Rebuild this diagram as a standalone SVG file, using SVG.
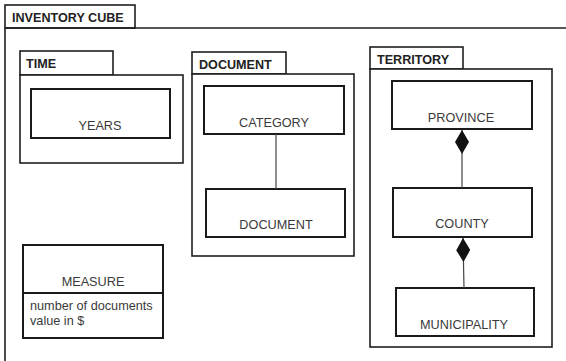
<svg xmlns="http://www.w3.org/2000/svg" width="566" height="361" viewBox="0 0 566 361">
  <style>
    .pkg { fill: #ffffff; stroke: #1e1e1e; stroke-width: 1.6; }
    .cls { fill: #ffffff; stroke: #1a1a1a; stroke-width: 2; }
    .title { font-family: "Liberation Sans", Arial, sans-serif; font-size: 12.6px; font-weight: bold; fill: #222222; }
    .name { font-family: "Liberation Sans", Arial, sans-serif; font-size: 12.7px; fill: #3a3a3a; text-anchor: middle; }
    .attr { font-family: "Liberation Sans", Arial, sans-serif; font-size: 12.7px; fill: #3a3a3a; }
    .link { fill: none; stroke: #444444; stroke-width: 1.2; }
  </style>
  <defs>
    <!-- filled diamond at the whole end of a composition -->
    <marker id="composition" viewBox="0 0 24 14" refX="24" refY="7" markerWidth="24" markerHeight="14" markerUnits="userSpaceOnUse" orient="auto">
      <path d="M0,7 L12,0 L24,7 L12,14 Z" fill="#111111"/>
    </marker>
  </defs>

  <rect width="566" height="361" fill="#ffffff"/>

  <!-- outer package -->
  <g id="inventory-cube">
    <rect class="pkg" x="5" y="5" width="130" height="23"/>
    <path class="pkg" d="M5,28 L570,28 M5,28 L5,365" fill="none"/>
    <text class="title" x="12" y="22">INVENTORY CUBE</text>
  </g>

  <!-- TIME package -->
  <g id="time">
    <rect class="pkg" x="20" y="51" width="93" height="24"/>
    <rect class="pkg" x="20" y="75" width="163" height="88"/>
    <text class="title" x="26" y="68">TIME</text>
  </g>
  <g id="years">
    <rect class="cls" x="31" y="89" width="139" height="49"/>
    <text class="name" x="100" y="130">YEARS</text>
  </g>

  <!-- DOCUMENT package -->
  <g id="document-pkg">
    <rect class="pkg" x="192" y="52" width="94" height="22"/>
    <rect class="pkg" x="192" y="74" width="162" height="182"/>
    <text class="title" x="199" y="69">DOCUMENT</text>
  </g>
  <g id="category">
    <rect class="cls" x="204" y="86" width="140" height="48"/>
    <text class="name" x="274" y="127">CATEGORY</text>
  </g>
  <g id="document">
    <rect class="cls" x="206" y="189" width="139" height="48"/>
    <text class="name" x="276" y="229">DOCUMENT</text>
  </g>

  <!-- TERRITORY package -->
  <g id="territory">
    <rect class="pkg" x="370" y="47" width="93" height="22"/>
    <rect class="pkg" x="370" y="69" width="182" height="278"/>
    <text class="title" x="377" y="64">TERRITORY</text>
  </g>
  <g id="province">
    <rect class="cls" x="392" y="81" width="140" height="48"/>
    <text class="name" x="461" y="122">PROVINCE</text>
  </g>
  <g id="county">
    <rect class="cls" x="393" y="188" width="139" height="49"/>
    <text class="name" x="462" y="228">COUNTY</text>
  </g>
  <g id="municipality">
    <rect class="cls" x="396" y="288" width="138" height="48"/>
    <text class="name" x="464" y="329">MUNICIPALITY</text>
  </g>

  <!-- MEASURE class -->
  <g id="measure">
    <rect class="cls" x="23" y="245" width="140" height="93"/>
    <line class="cls" x1="23" y1="293" x2="163" y2="293"/>
    <text class="name" x="93" y="286">MEASURE</text>
    <text class="attr" x="30" y="310">number of documents</text>
    <text class="attr" x="30" y="325">value in $</text>
  </g>

  <!-- connectors -->
  <g id="connectors">
    <line class="link" x1="276" y1="134" x2="276" y2="189"/>
    <line class="link" x1="462" y1="188" x2="462" y2="130" marker-end="url(#composition)"/>
    <line class="link" x1="464" y1="288" x2="463" y2="238" marker-end="url(#composition)"/>
  </g>
</svg>
